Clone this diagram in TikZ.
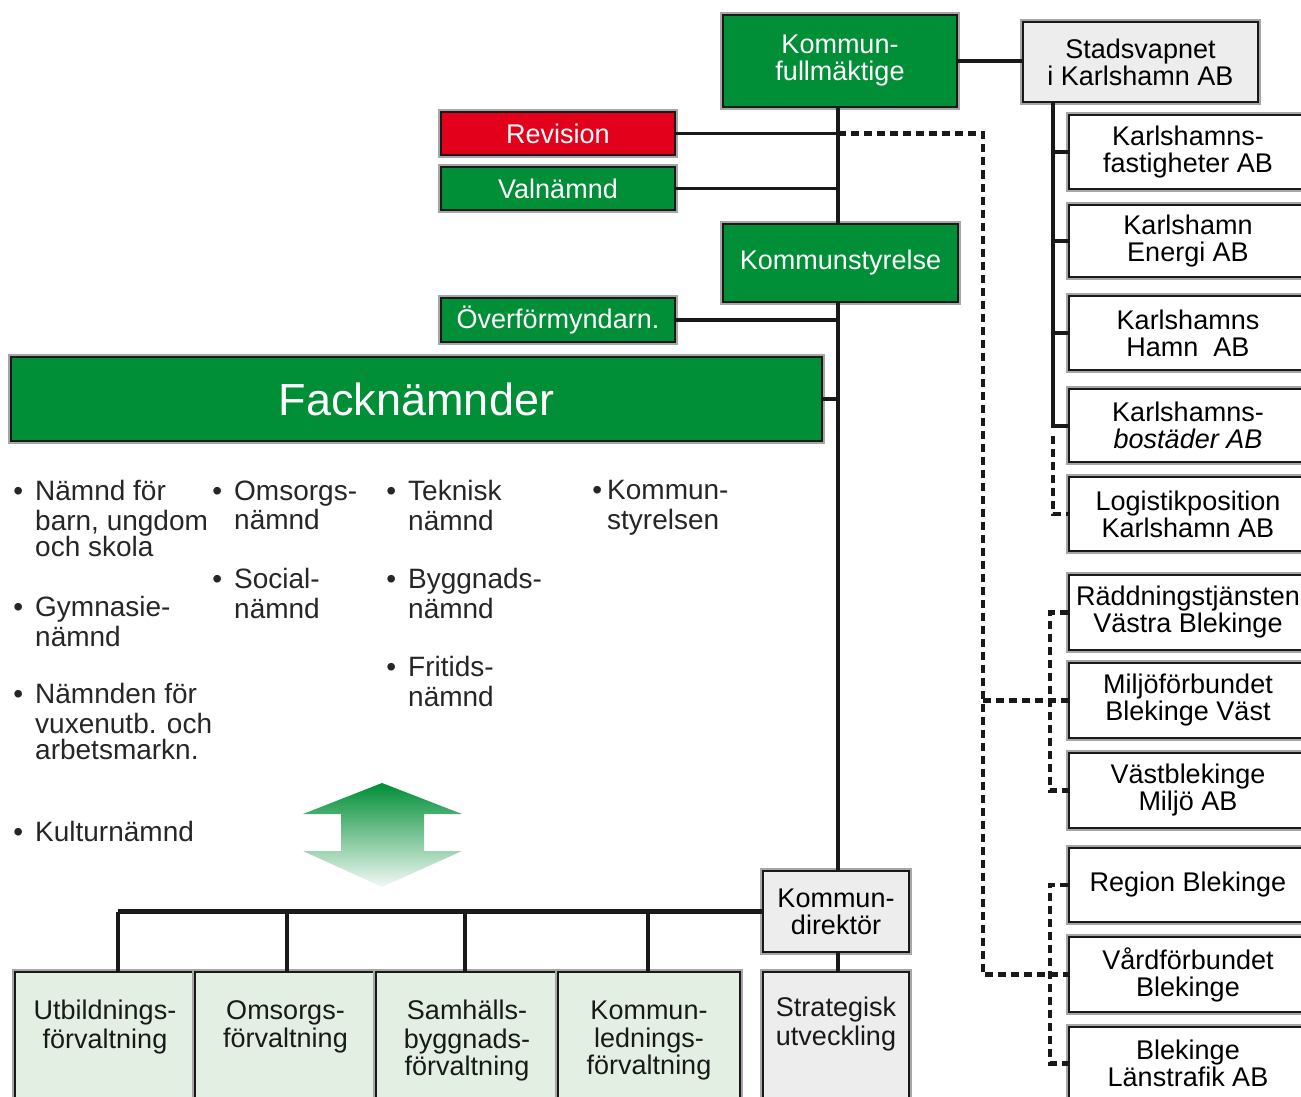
\documentclass[tikz,border=0pt]{standalone}
\usepackage{fontspec}
\setmainfont{Liberation Sans}
\usetikzlibrary{calc}
\definecolor{kgreen}{RGB}{0,142,54}
\definecolor{kred}{RGB}{226,0,26}
\definecolor{kgray}{RGB}{237,237,237}
\definecolor{klgreen}{RGB}{226,239,226}
\definecolor{kline}{RGB}{25,25,25}
\newcommand\kbfont{\fontsize{27}{27}\selectfont}
\newcommand\klfont{\fontsize{28}{26.5}\selectfont}
\newcommand\kffont{\fontsize{45}{50}\selectfont}
\begin{document}
\begin{tikzpicture}[x=1pt,y=-1pt,
  box/.style={draw=kline, line width=2.5pt, inner sep=0pt, align=center, font=\kbfont,
              preaction={draw=black!35, line width=5.5pt}},
  gbox/.style={box, fill=kgreen, text=white},
  rbox/.style={box, fill=kred, text=white},
  graybox/.style={box, fill=kgray, text=black},
  wbox/.style={box, fill=white, text=black, minimum width=238pt},
  lgbox/.style={box, fill=klgreen, minimum height=128pt},
  btext/.style={anchor=north, align=center, inner sep=0pt, font=\kbfont, text=black!90},
  litem/.style={anchor=north west, align=left, inner sep=0pt, font=\klfont, text=black!85},
  conn/.style={draw=kline, line width=3.5pt},
  dashline/.style={draw=kline, line width=4.5pt, dash pattern=on 8pt off 5pt}]
\useasboundingbox (0,0) rectangle (1301,1097);

% helper coordinates
\coordinate (sp) at (838,0);
\coordinate (g1) at (1053,0);
\coordinate (g2) at (1050,0);
\coordinate (dx) at (983,0);
\coordinate (d1) at (118,0);
\coordinate (d2) at (287,0);
\coordinate (d3) at (465,0);
\coordinate (d4) at (648,0);

% top level boxes
\node[gbox, minimum width=234pt, minimum height=92pt] (kf) at (840,61) {Kommun-\\fullmäktige};
\node[graybox, minimum width=235pt, minimum height=80pt] (sv) at (1140.5,62) {Stadsvapnet\\i Karlshamn AB};
\node[rbox, minimum width=234pt, minimum height=43pt] (rev) at (558,133.5) {Revision};
\node[gbox, minimum width=234pt, minimum height=43pt] (val) at (558,188.5) {Valnämnd};
\node[gbox, minimum width=235pt, minimum height=78pt] (ks) at (840.5,263) {Kommunstyrelse};
\node[gbox, minimum width=234pt, minimum height=44pt] (ovf) at (558,320) {Överförmyndarn.};
\node[gbox, minimum width=811pt, minimum height=84pt, font=\kffont] (fack) at (416.5,399) {Facknämnder};
\node[graybox, minimum width=146pt, minimum height=81pt] (kd) at (836,911.5) {Kommun-\\direktör};

% bottom boxes
\node[lgbox, minimum width=180pt] (utb) at (105,1036) {};
\node[lgbox, minimum width=181pt] (oms) at (285.5,1036) {};
\node[lgbox, minimum width=182pt] (sam) at (467,1036) {};
\node[lgbox, minimum width=182pt] (kom) at (649,1036) {};
\node[graybox, minimum width=146pt, minimum height=128pt] (strat) at (836,1036) {};
\node[btext] (utbT) at (105,1000) {\strut Utbildnings-\\förvaltning};
\node[btext] (omsT) at (285.5,1000) {\strut Omsorgs-\\förvaltning};
\node[btext] (samT) at (467,1000) {\strut Samhälls-\\byggnads-\\förvaltning};
\node[btext] (komT) at (649,1000) {\strut Kommun-\\lednings-\\förvaltning};
\node[btext] (stratT) at (836,997) {\strut Strategisk\\utveckling};

% right column
\node[wbox, minimum height=74pt] (b1) at (1188,152) {Karlshamns-\\fastigheter AB};
\node[wbox, minimum height=72pt] (b2) at (1188,241) {Karlshamn\\Energi AB};
\node[wbox, minimum height=74pt] (b3) at (1188,333) {Karlshamns\\Hamn\ \ AB};
\node[wbox, minimum height=73pt] (b4) at (1188,425.5) {Karlshamns-\\\textit{bostäder AB}};
\node[wbox, minimum height=74pt] (b5) at (1188,514) {Logistikposition\\Karlshamn AB};
\node[wbox, minimum height=75pt] (b6) at (1188,612.5) {Räddningstjänsten\\Västra Blekinge};
\node[wbox, minimum height=75pt] (b7) at (1188,700.5) {Miljöförbundet\\Blekinge Väst};
\node[wbox, minimum height=75pt] (b8) at (1188,790.5) {Västblekinge\\Miljö AB};
\node[wbox, minimum height=74pt] (b9) at (1188,885) {Region Blekinge};
\node[wbox, minimum height=75pt] (b10) at (1188,974.5) {Vårdförbundet\\Blekinge};
\node[wbox, minimum height=73pt] (b11) at (1188,1063.5) {Blekinge\\Länstrafik AB};

% solid connectors
\draw[conn] (kf.south -| sp) -- (ks.north -| sp);
\draw[conn] (ks.south -| sp) -- (kd.north -| sp);
\draw[conn] (kd.south -| sp) -- (strat.north -| sp);
\draw[conn] (rev.east) -- (rev.east -| sp);
\draw[conn] (val.east) -- (val.east -| sp);
\draw[conn] (ovf.east) -- (ovf.east -| sp);
\draw[conn] (fack.east) -- (fack.east -| sp);
\draw[conn, line width=4pt] (kf.east) -- (kf.east -| sv.west);
\draw[conn, line width=4pt] (sv.south -| g1) -- (b4.west -| g1) -- (b4.west);
\foreach \b in {b1,b2,b3}
  \draw[conn, line width=4pt] (\b.west -| g1) -- (\b.west);
\draw[conn, line width=5.5pt] (kd.west) -- (kd.west -| d1);
\foreach \d in {d1,d2,d3,d4}
  \draw[conn] (kd.west -| \d) -- (utb.north -| \d);

% dashed connectors
\draw[dashline] ($(b4.west -| g1)+(0,10)$) -- (b5.west -| g1) -- (b5.west);
\draw[dashline] (rev.east -| sp) -- (rev.east -| dx) -- (b10.west -| dx) -- (b10.west);
\draw[dashline] (b7.west -| dx) -- (b7.west);
\draw[dashline] (b6.west) -- (b6.west -| g2) -- (b8.west -| g2) -- (b8.west);
\draw[dashline] (b9.west) -- (b9.west -| g2) -- (b11.west -| g2) -- (b11.west);

% list of committees
\node[litem] (n1) at (35,480.5) {\strut\llap{•\hspace{12pt}}Nämnd för\\barn, ungdom\\och skola};
\node[litem] (n2) at (35,596.5) {\strut\llap{•\hspace{12pt}}Gymnasie-\\nämnd};
\node[litem] (n3) at (35,683.5) {\strut\llap{•\hspace{12pt}}Nämnden för\\vuxenutb. och\\arbetsmarkn.};
\node[litem] (n4) at (35,821.5) {\strut\llap{•\hspace{12pt}}Kulturnämnd};
\node[litem] (n5) at (234,480.5) {\strut\llap{•\hspace{12pt}}Omsorgs-\\nämnd};
\node[litem] (n6) at (234,568.5) {\strut\llap{•\hspace{12pt}}Social-\\nämnd};
\node[litem] (n7) at (408,480.5) {\strut\llap{•\hspace{12pt}}Teknisk\\nämnd};
\node[litem] (n8) at (408,568.5) {\strut\llap{•\hspace{12pt}}Byggnads-\\nämnd};
\node[litem] (n9) at (408,656.5) {\strut\llap{•\hspace{12pt}}Fritids-\\nämnd};
\node[litem] (n10) at (607,480.5) {\strut\llap{•\hspace{5pt}}Kommun-\\styrelsen};

% double arrow
\shade[top color=kgreen, bottom color=kgreen!5]
  (382,783) -- (462,814) -- (424,814) -- (424,851) -- (462,851) -- (382,887)
  -- (303,851) -- (341,851) -- (341,814) -- (303,814) -- cycle;
\end{tikzpicture}
\end{document}
